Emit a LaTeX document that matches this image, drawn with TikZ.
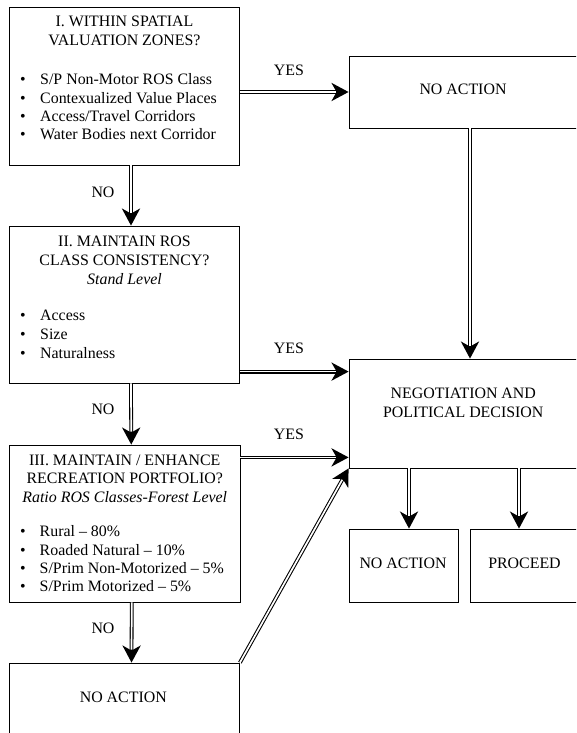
\documentclass[tikz,border=0pt]{standalone}
\usepackage{fontspec}
\setmainfont{Liberation Serif}
\usetikzlibrary{arrows.meta}
\tikzset{
	box/.style={draw, inner sep=0pt, line width=0.8pt},
	link/.style={line width=3.8pt, -{Stealth[length=17pt,width=18pt,inset=5pt]},
		postaction={draw=white, line width=1.7pt, -, shorten >=13pt}},
	txt/.style={anchor=base, inner sep=0pt},
	item/.style={anchor=base west, inner sep=0pt},
	answer/.style={inner sep=0pt}
}
\begin{document}
\begin{tikzpicture}[x=1pt,y=-1pt,font=\fontsize{15.9}{18.3}\selectfont]
			\clip (0,0) rectangle (576,733);
			% left column
			\node[box,minimum width=230,minimum height=158] (zones) at (124.5,86) {};
			\node[box,minimum width=230,minimum height=157] (consist) at (124.5,304.5) {};
			\node[box,minimum width=230.5,minimum height=157] (portfolio) at (124.75,523.5) {};
			\node[box,minimum width=230,minimum height=72] (noact) at (124.5,699) {};
			% right column
			\node[box,minimum width=228,minimum height=72] (skip) at (463,92) {};
			\node[box,minimum width=228,minimum height=109] (nego) at (463,413.5) {};
			\node[box,minimum width=109,minimum height=73] (stop) at (403.5,565.5) {};
			\node[box,minimum width=108,minimum height=73] (proceed) at (524,565.5) {};
			% texts
			\node[txt] at (124.5,27) {I. WITHIN SPATIAL};
			\node[txt] at (124.5,46) {VALUATION ZONES?};
			\foreach \t [count=\i] in {S/P Non-Motor ROS Class,Contexualized Value Places,Access/Travel Corridors,Water Bodies next Corridor}{
				\node[txt] at (23,{85+18.1*(\i-1)}) {\textbullet};
				\node[item] at (40,{85+18.1*(\i-1)}) {\t};
			}
			\node[txt] at (124.5,246.5) {II. MAINTAIN ROS};
			\node[txt] at (124.5,265.3) {CLASS CONSISTENCY?};
			\node[txt] at (124.5,284) {\textit{Stand Level}};
			\foreach \t [count=\i] in {Access,Size,Naturalness}{
				\node[txt] at (23,{320+19*(\i-1)}) {\textbullet};
				\node[item] at (40,{320+19*(\i-1)}) {\t};
			}
			\node[txt] at (124.75,465) {III. MAINTAIN / ENHANCE};
			\node[txt] at (124.75,483.3) {RECREATION PORTFOLIO?};
			\node[txt] at (124.75,502.3) {\textit{Ratio ROS Classes-Forest Level}};
			\foreach \t [count=\i] in {Rural -- 80\%,Roaded Natural -- 10\%,S/Prim Non-Motorized -- 5\%,S/Prim Motorized -- 5\%}{
				\node[txt] at (23,{536.7+18.3*(\i-1)}) {\textbullet};
				\node[item] at (39.5,{536.7+18.3*(\i-1)}) {\t};
			}
			\node[txt] at (123.3,702.3) {NO ACTION};
			\node[txt] at (463,94.3) {NO ACTION};
			\node[txt] at (463.3,398.3) {NEGOTIATION AND};
			\node[txt] at (463.3,417.3) {POLITICAL DECISION};
			\node[txt] at (403,568.3) {NO ACTION};
			\node[txt] at (524.5,568.3) {PROCEED};
			% connectors
			\coordinate (in2) at ([yshift=-13pt]nego.north west);
			\coordinate (in3) at ([yshift=11pt]nego.south west);
			\coordinate (s1) at ([xshift=5.5pt]stop.north);
			\coordinate (s2) at ([xshift=-5pt]proceed.north);
			\draw[link] (zones.east |- skip.west) -- (skip.west);
			\draw[link] ([xshift=6.5pt]zones.south) -- ([xshift=6.5pt]consist.north);
			\draw[link] ([xshift=7pt]skip.south) -- ([xshift=7pt]nego.north);
			\draw[link] (consist.east |- in2) -- (in2);
			\draw[link] ([xshift=6.5pt]consist.south) -- ([xshift=6.5pt]portfolio.north);
			\draw[link] (portfolio.east |- in3) -- (in3);
			\draw[link] ([xshift=7pt]portfolio.south) -- ([xshift=7pt]noact.north);
			\draw[link] (noact.north east) -- (nego.south west);
			\draw[link] (s1 |- nego.south) -- (s1);
			\draw[link] (s2 |- nego.south) -- (s2);
			% answers
			\node[answer] at (289,70) {YES};
			\node[answer] at (289,348.5) {YES};
			\node[answer] at (289,434.5) {YES};
			\node[answer] at (103,192) {NO};
			\node[answer] at (103,409.5) {NO};
			\node[answer] at (103,628.5) {NO};
		\end{tikzpicture}
\end{document}
